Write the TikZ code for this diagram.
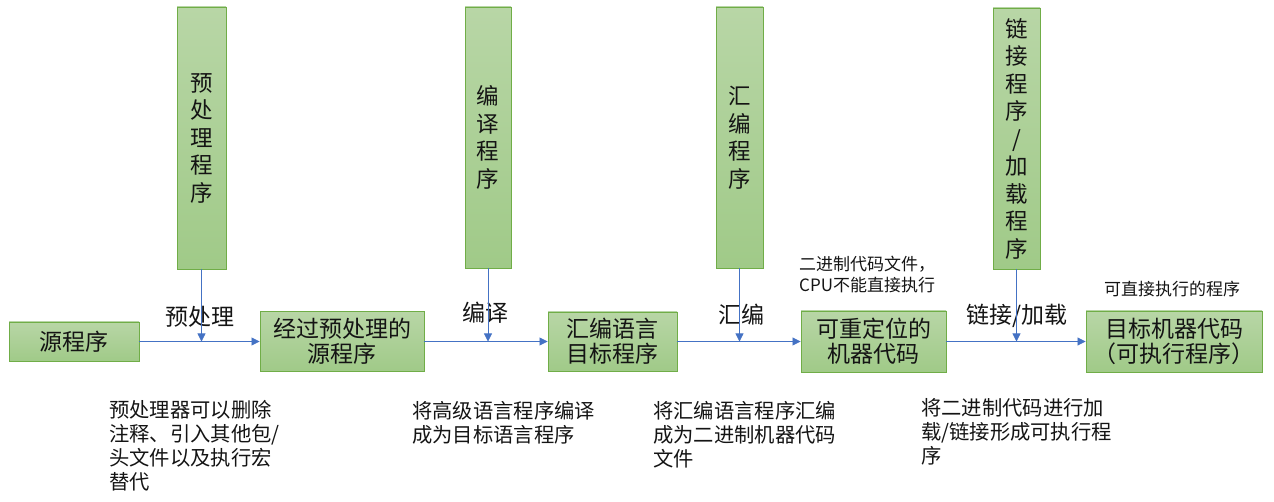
\documentclass[tikz,border=0pt]{standalone}
\usepackage{fontspec}
\setmainfont{Noto Sans CJK SC}
\usetikzlibrary{arrows.meta}
\definecolor{gborder}{RGB}{112,173,71}
\definecolor{gtop}{RGB}{184,214,166}
\definecolor{gbot}{RGB}{160,202,136}
\definecolor{ablue}{RGB}{68,114,196}
\definecolor{txt}{RGB}{20,20,20}
\begin{document}
\begin{tikzpicture}[x=1pt,y=-1pt,
  box/.style={draw=gborder, line width=0.9pt, top color=gtop, bottom color=gbot,
    inner sep=0pt, align=center, text=txt, font=\fontsize{23}{25}\selectfont},
  vbox/.style={box, font=\fontsize{22.5}{27.5}\selectfont},
  lbl/.style={inner sep=0pt, text=txt, font=\fontsize{23}{25}\selectfont},
  note/.style={inner sep=0pt, text=txt, align=left, font=\fontsize{17}{21}\selectfont},
  desc/.style={inner sep=0pt, text=txt, align=left, anchor=north west, font=\fontsize{20.3}{24}\selectfont},
  arr/.style={draw=ablue, line width=0.8pt, -{Triangle[length=8pt,width=8pt]}}
]
\useasboundingbox (0,0) rectangle (1274,502);
% main boxes
\node[box, minimum width=130pt, minimum height=39pt] (src) at (74,341.5) {源程序};
\node[box, minimum width=164pt, minimum height=60pt] (pre) at (342,341.5) {经过预处理的\\源程序};
\node[box, minimum width=129pt, minimum height=59pt] (asm) at (612.5,341.5) {汇编语言\\目标程序};
\node[box, minimum width=145pt, minimum height=61pt] (rel) at (873.5,341.5) {可重定位的\\机器代码};
\node[box, minimum width=176pt, minimum height=61pt] (tgt) at (1174,341.5) {目标机器代码\\（可执行程序）};
% vertical boxes
\node[vbox, minimum width=49pt, minimum height=262pt] (v1) at (201.5,138) {预\\处\\理\\程\\序};
\node[vbox, minimum width=46pt, minimum height=261pt] (v2) at (488,137.5) {编\\译\\程\\序};
\node[vbox, minimum width=47pt, minimum height=261pt] (v3) at (739.5,137.5) {汇\\编\\程\\序};
\node[vbox, minimum width=47pt, minimum height=261pt] (v4) at (1016.5,138.5) {链\\接\\程\\序\\/\\加\\载\\程\\序};
% labels on arrows
\node[lbl] (l1) at (200,317) {预处理};
\node[lbl] (l2) at (485,313) {编译};
\node[lbl] (l3) at (741,315) {汇编};
\node[lbl] (l4) at (1017,316) {链接/加载};
% notes
\node[note, anchor=north west] (n1) at (799,256) {二进制代码文件，\\CPU不能直接执行};
\node[note] (n2) at (1172,289) {可直接执行的程序};
% descriptions
\node[desc] (d1) at (109,400) {预处理器可以删除\\注释、引入其他包/\\头文件以及执行宏\\替代};
\node[desc] (d2) at (412,401) {将高级语言程序编译\\成为目标语言程序};
\node[desc] (d3) at (653,401) {将汇编语言程序汇编\\成为二进制机器代码\\文件};
\node[desc] (d4) at (921,398) {将二进制代码进行加\\载/链接形成可执行程\\序};
% connectors
\draw[arr] (src) -- (pre);
\draw[arr] (pre) -- (asm);
\draw[arr] (asm) -- (rel);
\draw[arr] (rel) -- (tgt);
\draw[arr] (v1.south) -- (v1.south |- src.center);
\draw[arr] (v2.south) -- (v2.south |- src.center);
\draw[arr] (v3.south) -- (v3.south |- src.center);
\draw[arr] (v4.south) -- (v4.south |- src.center);
\end{tikzpicture}
\end{document}
